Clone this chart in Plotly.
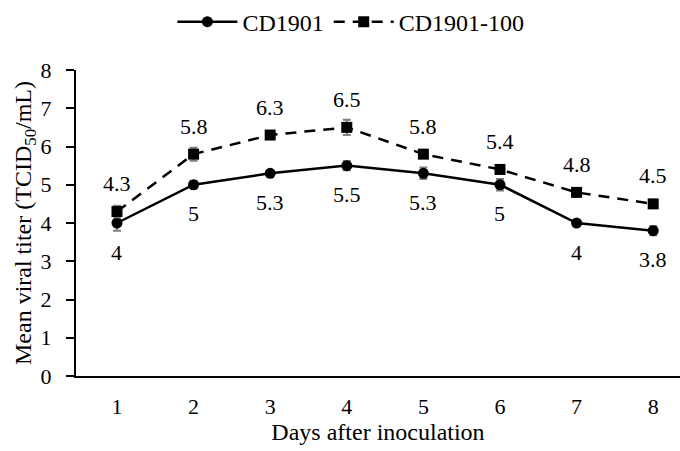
import plotly.graph_objects as go

days = [1, 2, 3, 4, 5, 6, 7, 8]
cd1901 = [4.0, 5.0, 5.3, 5.5, 5.3, 5.0, 4.0, 3.8]
cd1901_err = [0.2, 0.1, 0.05, 0.12, 0.15, 0.15, 0.05, 0.12]
cd1901_100 = [4.3, 5.8, 6.3, 6.5, 5.8, 5.4, 4.8, 4.5]
cd1901_100_err = [0.15, 0.17, 0.05, 0.2, 0.05, 0.08, 0.05, 0.05]
y_ticks = [0, 1, 2, 3, 4, 5, 6, 7, 8]

FONT = "Liberation Serif"
ERR_COLOR = "#7f7f7f"
TICK_SIZE = 22
TITLE_SIZE = 24

fig = go.Figure()
fig.add_trace(go.Scatter(
    x=days, y=cd1901, name="CD1901", mode="lines+markers",
    line=dict(color="black", width=2.5),
    marker=dict(symbol="circle", size=11, color="black"),
    error_y=dict(type="data", array=cd1901_err, color=ERR_COLOR, thickness=2, width=4),
))
fig.add_trace(go.Scatter(
    x=days, y=cd1901_100, name="CD1901-100", mode="lines+markers",
    line=dict(color="black", width=2.5, dash="11px,8px"),
    marker=dict(symbol="square", size=11, color="black"),
    error_y=dict(type="data", array=cd1901_100_err, color=ERR_COLOR, thickness=2, width=4),
))

annotations = []
for d, v in zip(days, cd1901):
    annotations.append(dict(x=d, y=v, xref="x", yref="y", text=f"{v:g}", showarrow=False,
                            yshift=-29, font=dict(family=FONT, size=TICK_SIZE, color="black")))
for d, v in zip(days, cd1901_100):
    annotations.append(dict(x=d, y=v, xref="x", yref="y", text=f"{v:g}", showarrow=False,
                            yshift=28, font=dict(family=FONT, size=TICK_SIZE, color="black")))

fig.update_layout(
    width=680, height=451,
    margin=dict(l=76, r=0, t=70, b=75, autoexpand=False),
    paper_bgcolor="white", plot_bgcolor="white",
    font=dict(family=FONT, size=TICK_SIZE, color="black"),
    showlegend=True,
    legend=dict(orientation="h", x=0.516, xanchor="center", xref="container",
                y=0.951, yanchor="middle", yref="container", itemwidth=60,
                font=dict(family=FONT, size=TITLE_SIZE, color="black")),
    annotations=annotations,
    xaxis=dict(
        range=[0.465, 8.35], tickvals=days, ticktext=[str(d) for d in days],
        showgrid=False, zeroline=False, showline=True, linecolor="black", linewidth=2,
        ticks="", ticklabelstandoff=10, automargin=False,
        tickfont=dict(family=FONT, size=TICK_SIZE, color="black"),
        title=dict(text="Days after inoculation", font=dict(family=FONT, size=TITLE_SIZE, color="black"), standoff=2),
    ),
    yaxis=dict(
        range=[0, 8], tickvals=y_ticks, ticktext=[str(t) for t in y_ticks],
        showgrid=False, zeroline=False, showline=True, linecolor="black", linewidth=2,
        ticks="outside", ticklen=8, tickwidth=2, tickcolor="black", ticklabelstandoff=10,
        automargin=False,
        tickfont=dict(family=FONT, size=TICK_SIZE, color="black"),
        title=dict(text="Mean viral titer (TCID<sub>50</sub>/mL)", font=dict(family=FONT, size=TITLE_SIZE, color="black"), standoff=2),
    ),
)

fig.write_html("out.html", config={"displayModeBar": False},
               post_script="document.body.style.margin='0';")
